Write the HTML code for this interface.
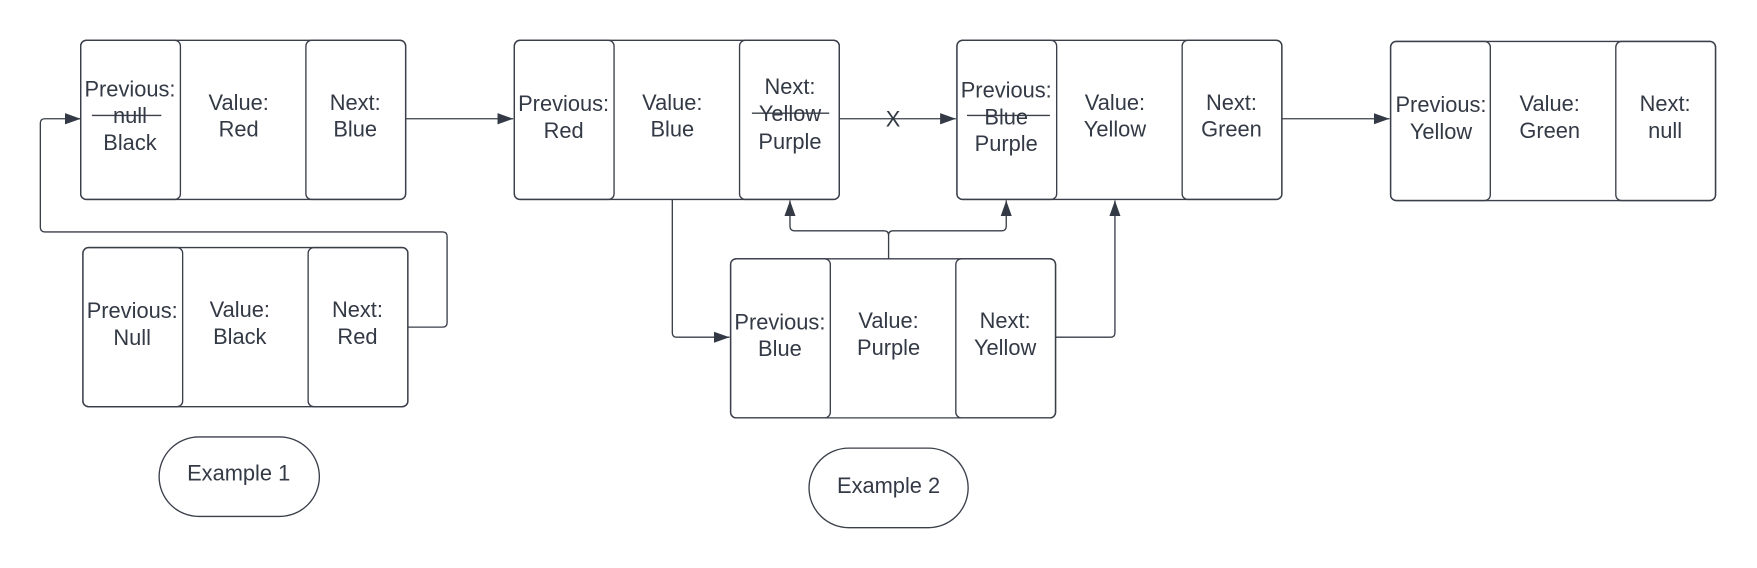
<!DOCTYPE html>
<html><head><meta charset="utf-8"><style>
html,body{margin:0;padding:0;background:#fff;}
svg{display:block;}
text{font-family:"Liberation Sans",sans-serif;font-size:19.5px;fill:#333a45;text-anchor:middle;}
</style></head><body>
<svg width="1757" height="568" viewBox="0 0 1568 507" preserveAspectRatio="none" xmlns="http://www.w3.org/2000/svg">
<defs>
<marker id="ar" viewBox="0 0 14 10" refX="14" refY="5" markerWidth="14" markerHeight="10" markerUnits="userSpaceOnUse" orient="auto">
<path d="M0,0 L14,5 L0,10 z" fill="#333a45"/>
</marker>
</defs>
<g fill="none" stroke="#3a3f4a" stroke-width="1.2">
<rect x="72" y="36" width="290" height="142" rx="5"/><rect x="72" y="36" width="89" height="142" rx="5"/><rect x="273" y="36" width="89" height="142" rx="5"/>
<rect x="74" y="221" width="290" height="142" rx="5"/><rect x="74" y="221" width="89" height="142" rx="5"/><rect x="275" y="221" width="89" height="142" rx="5"/>
<rect x="459" y="36" width="290" height="142" rx="5"/><rect x="459" y="36" width="89" height="142" rx="5"/><rect x="660" y="36" width="89" height="142" rx="5"/>
<rect x="854" y="36" width="290" height="142" rx="5"/><rect x="854" y="36" width="89" height="142" rx="5"/><rect x="1055" y="36" width="89" height="142" rx="5"/>
<rect x="1241" y="37" width="290" height="142" rx="5"/><rect x="1241" y="37" width="89" height="142" rx="5"/><rect x="1442" y="37" width="89" height="142" rx="5"/>
<rect x="652" y="231" width="290" height="142" rx="5"/><rect x="652" y="231" width="89" height="142" rx="5"/><rect x="853" y="231" width="89" height="142" rx="5"/>
<rect x="142" y="390" width="143" height="71" rx="35.5"/>
<rect x="722" y="400" width="142" height="71" rx="35.5"/>
<path d="M364,292 H395 Q399,292 399,288 V211 Q399,207 395,207 H40 Q36,207 36,203 V110 Q36,106 40,106 H72" marker-end="url(#ar)"/>
<path d="M362,106 H458" marker-end="url(#ar)"/>
<path d="M749,106 H853" marker-end="url(#ar)"/>
<path d="M1144,106 H1240" marker-end="url(#ar)"/>
<path d="M600,178 V297 Q600,301 604,301 H651" marker-end="url(#ar)"/>
<path d="M793,231 V210 Q793,206 789,206 H709 Q705,206 705,202 V179" marker-end="url(#ar)"/>
<path d="M793,210 Q793,206 797,206 H894 Q898,206 898,202 V179" marker-end="url(#ar)"/>
<path d="M942,301 H991 Q995,301 995,297 V179" marker-end="url(#ar)"/>
<path d="M82,103 H144"/>
<path d="M671,101 H740"/>
<path d="M863,103 H937"/>
</g>
<text x="116" y="86">Previous:</text><text x="116" y="110">null</text><text x="116" y="134">Black</text>
<text x="213" y="98">Value:</text><text x="213" y="122">Red</text>
<text x="317" y="98">Next:</text><text x="317" y="122">Blue</text>

<text x="118" y="284">Previous:</text><text x="118" y="308">Null</text>
<text x="214" y="283">Value:</text><text x="214" y="307">Black</text>
<text x="319" y="283">Next:</text><text x="319" y="307">Red</text>

<text x="503" y="99">Previous:</text><text x="503" y="123">Red</text>
<text x="600" y="98">Value:</text><text x="600" y="122">Blue</text>
<text x="705" y="84">Next:</text><text x="705" y="108">Yellow</text><text x="705" y="133">Purple</text>
<text x="797" y="113">X</text>

<text x="898" y="87">Previous:</text><text x="898" y="111">Blue</text><text x="898" y="135">Purple</text>
<text x="995" y="98">Value:</text><text x="995" y="122">Yellow</text>
<text x="1099" y="98">Next:</text><text x="1099" y="122">Green</text>

<text x="1286" y="100">Previous:</text><text x="1286" y="124">Yellow</text>
<text x="1383" y="99">Value:</text><text x="1383" y="123">Green</text>
<text x="1486" y="99">Next:</text><text x="1486" y="123">null</text>

<text x="696" y="294">Previous:</text><text x="696" y="318">Blue</text>
<text x="793" y="293">Value:</text><text x="793" y="317">Purple</text>
<text x="897" y="293">Next:</text><text x="897" y="317">Yellow</text>

<text x="213" y="429">Example 1</text>
<text x="793" y="440">Example 2</text>
</svg>
</body></html>
